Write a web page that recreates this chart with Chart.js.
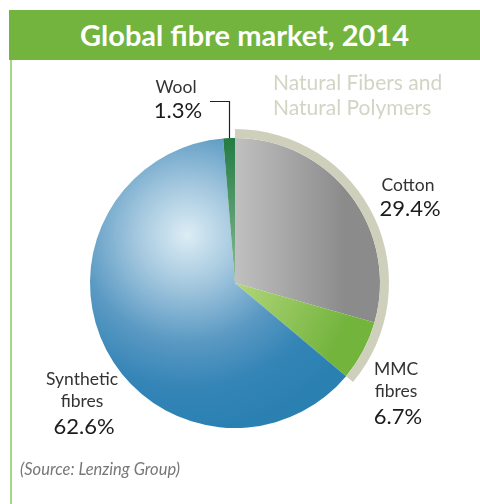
<!DOCTYPE html>
<html>
<head>
<meta charset="utf-8">
<script src="https://cdn.jsdelivr.net/npm/chart.js@4.4.0/dist/chart.umd.min.js"></script>
<style>
  body { margin: 0; width: 480px; height: 504px; background: #fff; position: relative; overflow: hidden; font-family: Lato, "Open Sans", sans-serif; }
  #edge { position: absolute; left: 10px; top: 60px; width: 2px; bottom: 0; background: #a6d784; }
  #head { position: absolute; left: 9px; top: 10px; width: 471px; height: 50px; background: #73b43e; color: #fff;
          font: bold 29px Lato, sans-serif; text-align: center; line-height: 50px; }
  #fibreChart { position: absolute; left: 0; top: 0; }
  .lbl { position: absolute; white-space: nowrap; line-height: 1; transform: translateX(-50%); text-align: center; }
  .name { font-size: 17.5px; color: #333; }
  .pct { font-size: 22px; color: #1b1b1b; }
  .group { font-size: 21px; color: #d3d4c4; transform: none; text-align: left; }
  #source { position: absolute; left: 20px; top: 461px; font: italic 16.5px Lato, sans-serif; color: #777; line-height: 1; }
</style>
</head>
<body>
<div id="edge"></div>
<canvas id="fibreChart" width="480" height="504"></canvas>
<div id="head">Global fibre market, 2014</div>
<div id="labels"></div>
<div id="source">(Source: Lenzing Group)</div>
<script>
// pie slices, clockwise from 12 o'clock
const categories = ['Cotton', 'MMC fibres', 'Synthetic fibres', 'Wool'];
const shares = [29.4, 6.7, 62.6, 1.3];
const shareLabels = ['29.4%', '6.7%', '62.6%', '1.3%'];
// slices covered by the outer band
const naturalGroup = ['Cotton', 'MMC fibres'];
const groupTitle = ['Natural Fibers and', 'Natural Polymers'];

const naturalShare = shares.filter((v, i) => naturalGroup.includes(categories[i])).reduce((a, b) => a + b, 0);

// text placement: centre x, baselines of each name line, then of the percentage
const labelPos = {
  'Cotton': { x: 408, lines: ['Cotton'], base: [192, 217] },
  'MMC fibres': { x: 396, lines: ['MMC', 'fibres'], base: [376, 398, 425] },
  'Synthetic fibres': { x: 82, lines: ['Synthetic', 'fibres'], base: [386, 408, 435] },
  'Wool': { x: 176, lines: ['Wool'], base: [94, 119] }
};

function sliceFill(c) {
  const area = c.chart.chartArea;
  if (!area) return '#888';
  const g = c.chart.ctx;
  const cx = (area.left + area.right) / 2, cy = (area.top + area.bottom) / 2;
  let grad;
  switch (categories[c.dataIndex]) {
    case 'Synthetic fibres':
      grad = g.createRadialGradient(cx - 48, cy - 48, 0, cx - 48, cy - 48, 195);
      grad.addColorStop(0, '#dcedf5');
      grad.addColorStop(0.25, '#a6c9df');
      grad.addColorStop(0.55, '#5a99c3');
      grad.addColorStop(0.78, '#3585b7');
      grad.addColorStop(1, '#2b80b2');
      return grad;
    case 'Cotton':
      grad = g.createLinearGradient(cx, 0, cx + 110, 0);
      grad.addColorStop(0, '#c0c0c0');
      grad.addColorStop(1, '#8b8b8b');
      return grad;
    case 'MMC fibres':
      grad = g.createLinearGradient(cx, cy, cx + 105, cy + 55);
      grad.addColorStop(0, '#b2d67a');
      grad.addColorStop(1, '#73b43d');
      return grad;
    default:
      grad = g.createLinearGradient(cx, cy - 145, cx, cy);
      grad.addColorStop(0, '#237b44');
      grad.addColorStop(1, '#8cbb97');
      return grad;
  }
}

// thin leader from the Wool label down to its slice
const woolLeader = {
  id: 'woolLeader',
  afterDraw(chart) {
    const arc = chart.getDatasetMeta(1).data[categories.indexOf('Wool')];
    const mid = (arc.startAngle + arc.endAngle) / 2;
    const x = Math.round(arc.x + Math.cos(mid) * arc.outerRadius) + 0.5;
    const y = arc.y + Math.sin(mid) * arc.outerRadius;
    const ctx = chart.ctx;
    ctx.save();
    ctx.strokeStyle = '#222';
    ctx.lineWidth = 1.2;
    ctx.beginPath();
    ctx.moveTo(210, 101.5);
    ctx.lineTo(x, 101.5);
    ctx.lineTo(x, y);
    ctx.stroke();
    ctx.restore();
  }
};

new Chart(document.getElementById('fibreChart'), {
  type: 'pie',
  data: {
    labels: categories,
    datasets: [
      {
        data: [naturalShare, 100 - naturalShare],
        backgroundColor: ['#cfd0bc', 'rgba(0,0,0,0)'],
        borderWidth: 0,
        weight: 9
      },
      {
        data: shares,
        backgroundColor: sliceFill,
        borderWidth: 0,
        weight: 145
      }
    ]
  },
  options: {
    responsive: false,
    animation: false,
    events: [],
    layout: { padding: { left: 81, right: 91, top: 129, bottom: 67 } },
    plugins: { legend: { display: false }, tooltip: { enabled: false } }
  },
  plugins: [woolLeader]
});

// labels
const box = document.getElementById('labels');
function put(text, cls, x, baseline, size) {
  const d = document.createElement('div');
  d.className = 'lbl ' + cls;
  d.textContent = text;
  d.style.left = x + 'px';
  d.style.top = (baseline - 0.887 * size) + 'px';
  box.appendChild(d);
}
categories.forEach((name, i) => {
  const p = labelPos[name];
  p.lines.forEach((w, k) => put(w, 'name', p.x, p.base[k], 17.5));
  put(shareLabels[i], 'pct', p.x + 2, p.base[p.lines.length], 22);
});
put(groupTitle[0], 'group', 273, 90, 21);
put(groupTitle[1], 'group', 273, 115, 21);
</script>
</body>
</html>
